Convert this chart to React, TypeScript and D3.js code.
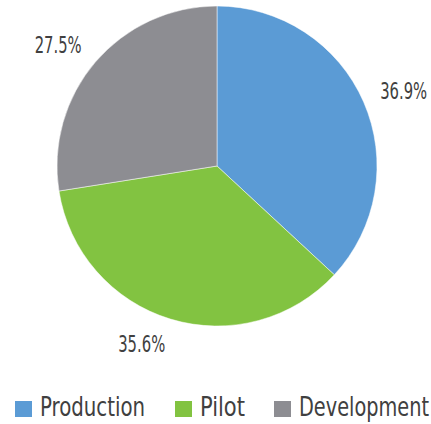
import React from "react";
import * as d3 from "d3";

const categories = ["Production", "Pilot", "Development"];
const values = [36.9, 35.6, 27.5];
const colors = ["#5b9bd5", "#82c341", "#8d8d92"];
const legendX = [15, 175, 274];
const legendTextW = [105, 45, 130];

const W = 431;
const H = 424;
const FONT = "'DejaVu Sans Condensed', 'DejaVu Sans', sans-serif";

export default function App() {
  const cx = 217;
  const cy = 166;
  const r = 160;
  const labelR = 178;
  const labelH = 17;
  const pie = d3.pie<number>().sort(null).value((d) => d);
  const arcs = pie(values);
  const arc = d3.arc<d3.PieArcDatum<number>>().innerRadius(0).outerRadius(r);
  return (
    <svg width={W} height={H} style={{ position: "absolute", left: 0, top: 0 }} fontFamily={FONT}>
      <rect width={W} height={H} fill="#ffffff" />
      <g transform={`translate(${cx},${cy})`}>
        {arcs.map((a, i) => (
          <path key={i} d={arc(a) || ""} fill={colors[i]} stroke="#ffffff" strokeWidth={0.5} />
        ))}
        {arcs.map((a, i) => {
          const mid = (a.startAngle + a.endAngle) / 2;
          const s = Math.sin(mid);
          const c = Math.cos(mid);
          const ax = labelR * s;
          const ay = -labelR * c;
          const y = ay - (c * labelH) / 2;
          const label = `${values[i].toFixed(1)}%`;
          return (
            <text
              key={i}
              x={ax}
              y={y}
              textAnchor={s >= 0 ? "start" : "end"}
              dominantBaseline="central"
              fontSize={23}
              fill="#404040"
              textLength={47}
              lengthAdjust="spacingAndGlyphs"
            >
              {label}
            </text>
          );
        })}
      </g>
      {categories.map((c, i) => (
        <g key={c} transform={`translate(${legendX[i]},0)`}>
          <rect x={0} y={401} width={17} height={16} fill={colors[i]} />
          <text x={25} y={416} fontSize={27} fill="#404040" textLength={legendTextW[i]} lengthAdjust="spacingAndGlyphs">
            {c}
          </text>
        </g>
      ))}
    </svg>
  );
}
